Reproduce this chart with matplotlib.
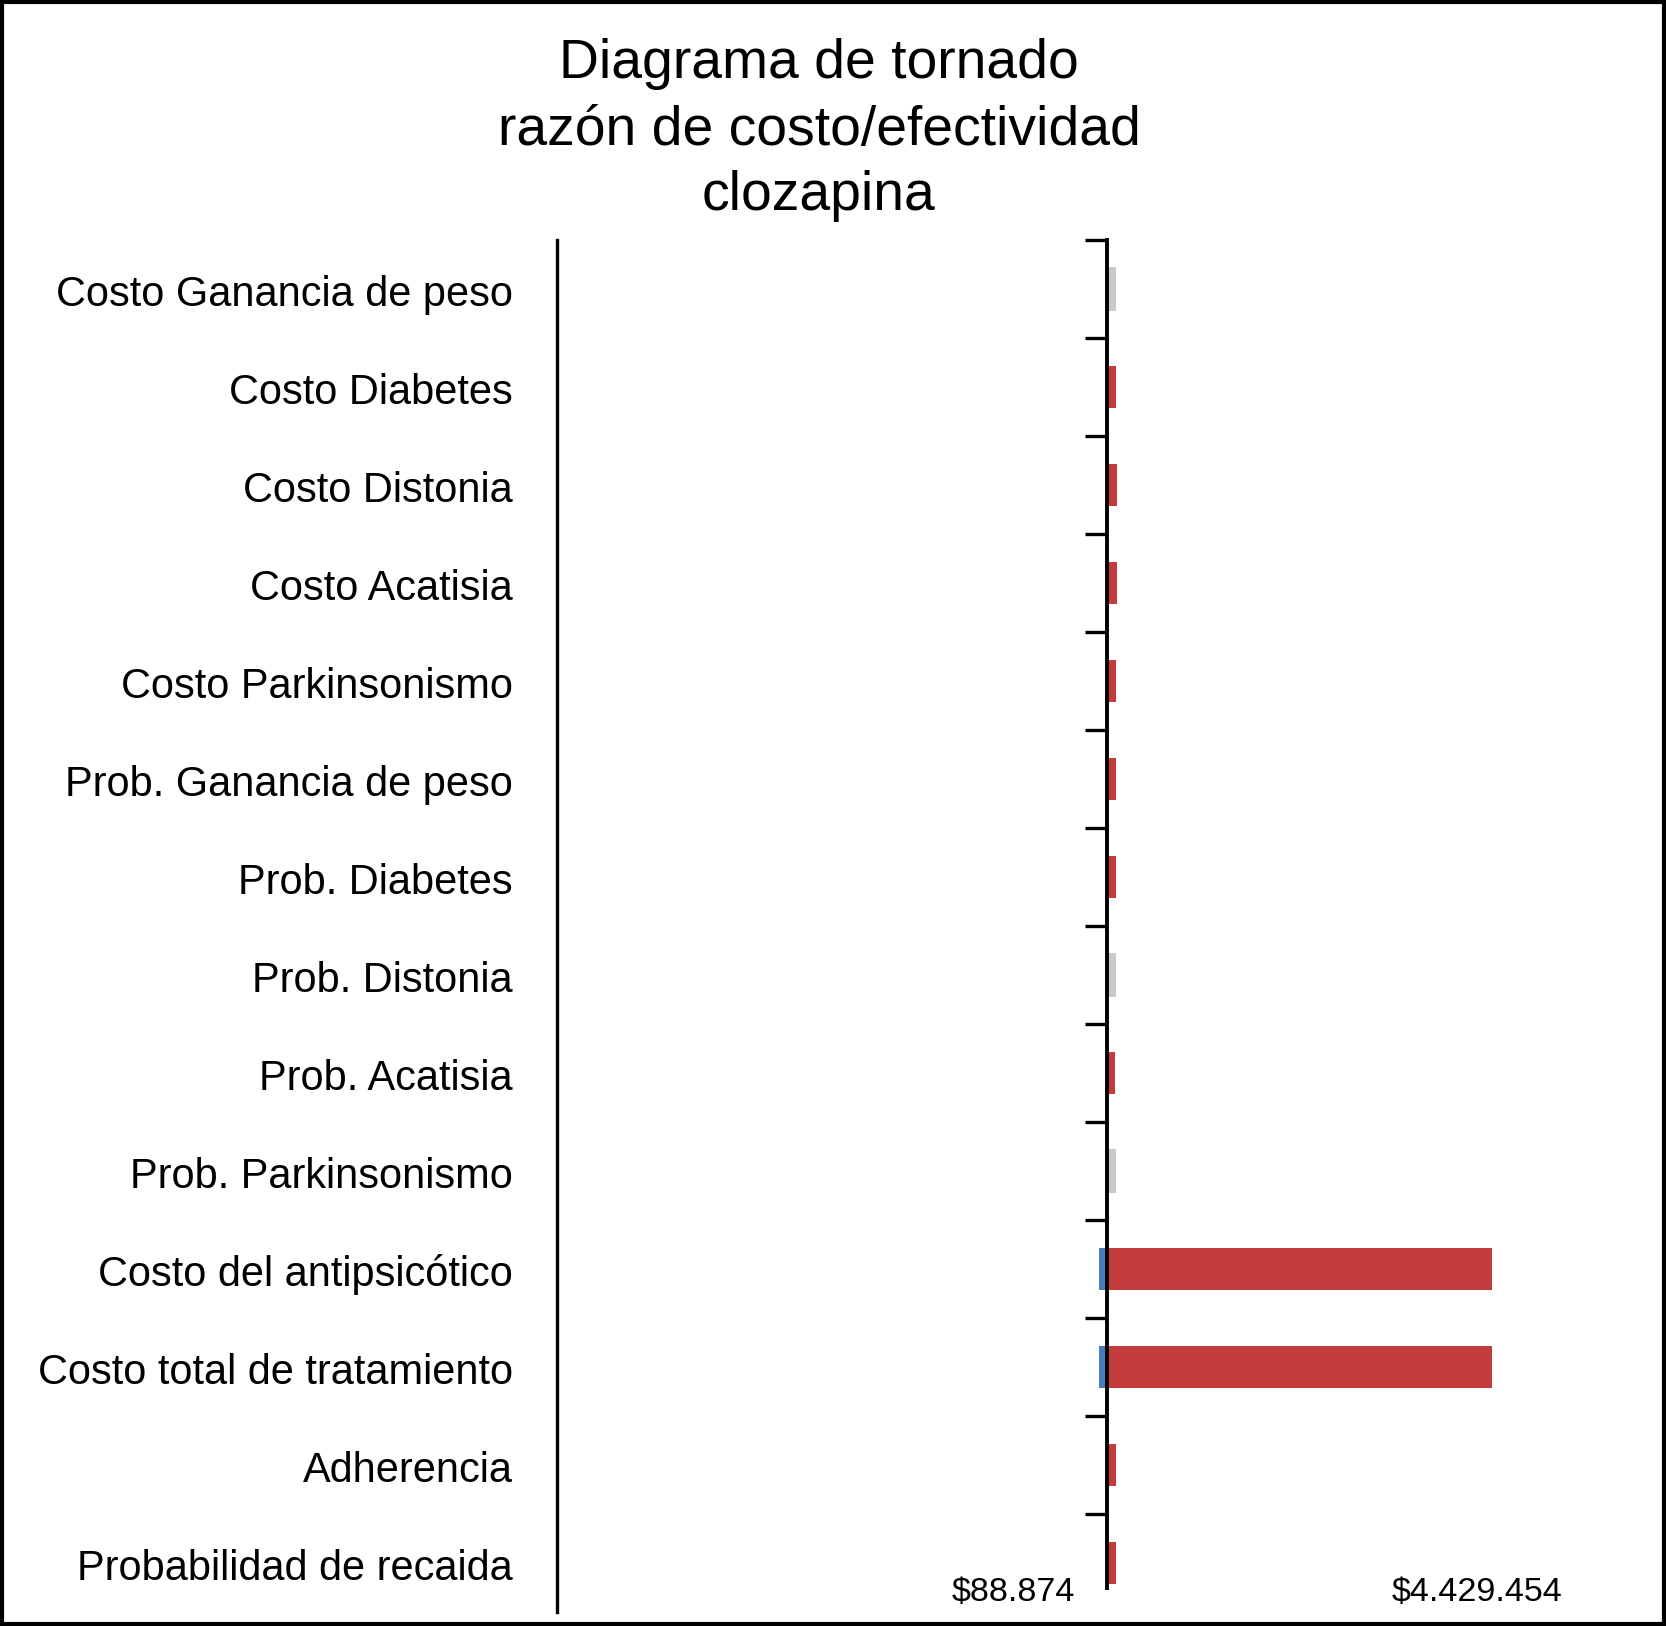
import matplotlib
matplotlib.use("Agg")
import matplotlib.pyplot as plt
import matplotlib.transforms as mtransforms
from matplotlib import font_manager
from matplotlib.patches import Rectangle

# Data (top to bottom), values in pesos
categories = [
    "Costo Ganancia de peso",
    "Costo Diabetes",
    "Costo Distonia",
    "Costo Acatisia",
    "Costo Parkinsonismo",
    "Prob. Ganancia de peso",
    "Prob. Diabetes",
    "Prob. Distonia",
    "Prob. Acatisia",
    "Prob. Parkinsonismo",
    "Costo del antipsicótico",
    "Costo total de tratamiento",
    "Adherencia",
    "Probabilidad de recaida",
]
base_value = 182600
low_values = [182600, 182600, 182600, 182600, 182600, 182600, 182600,
              182600, 182600, 182600, 88874, 88874, 182600, 182600]
high_values = [279000, 279000, 292000, 292000, 287000, 287000, 287000,
               287000, 266000, 287000, 4429454, 4429454, 285000, 285000]
neutral = [True, False, False, False, False, False, False,
           True, False, True, False, False, False, False]
min_label = "$88.874"
max_label = "$4.429.454"
title_lines = ["Diagrama de tornado", "razón de costo/efectividad", "clozapina"]

# Fonts: narrow Helvetica look if available
names = {f.name for f in font_manager.fontManager.ttflist}
if "Liberation Sans Narrow" in names:
    fam, k = "Liberation Sans Narrow", 1.0
else:
    fam, k = "Liberation Sans", 0.82
plt.rcParams["font.family"] = [fam, "DejaVu Sans"]

RED = "#C33B3A"
BLUE = "#4A7EBB"
GREY = "#C9C9C9"

W, H = 1666, 1626
fig = plt.figure(figsize=(W / 100, H / 100), dpi=100)
ax = fig.add_axes([557 / W, 1 - 1612 / H, (1640 - 557) / W, (1612 - 240) / H])

n = len(categories)
ys = list(range(n))
for y, lo, hi, ne in zip(ys, low_values, high_values, neutral):
    if ne:
        ax.barh(y, hi - base_value, left=base_value, height=0.44, color=GREY, zorder=2)
        continue
    if lo < base_value:
        ax.barh(y, base_value - lo, left=lo, height=0.42, color=BLUE, zorder=2)
    if hi > base_value:
        ax.barh(y, hi - base_value, left=base_value, height=0.42, color=RED, zorder=2)

px = 11031  # pesos per pixel
ax.set_xlim(base_value - 550 * px, base_value + 533 * px)
ax.set_ylim(n - 0.5, -0.5)

# center axis with ticks between categories
for s in ["top", "right", "bottom"]:
    ax.spines[s].set_visible(False)
ax.spines["left"].set_position(("data", base_value))
ax.spines["left"].set_linewidth(2.8)
ax.spines["left"].set_bounds(-0.5, n - 1 + 0.25)
ax.set_yticks([i - 0.5 for i in range(n)])
ax.set_yticklabels([])
ax.tick_params(axis="y", length=16, width=2.4, direction="out")
ax.set_xticks([])

# outer left line
ax.plot([0, 0], [0, 1], transform=ax.transAxes, color="black", lw=2.4, clip_on=False)

# category labels
trans = mtransforms.blended_transform_factory(ax.transAxes, ax.transData)
for y, c in zip(ys, categories):
    ax.annotate(c, xy=(-44 / (1640 - 557), y), xycoords=trans, xytext=(0, -4),
                textcoords="offset points", ha="right", va="center",
                fontsize=36.5 * k)

# bottom value labels
bt = mtransforms.blended_transform_factory(ax.transData, ax.transAxes)
ax.annotate(min_label, xy=(min(low_values), 0), xycoords=bt, xytext=(-17, 14),
            textcoords="offset points", ha="right", va="center", fontsize=30 * k)
ax.annotate(max_label, xy=(max(high_values), 0), xycoords=bt, xytext=(-11, 14),
            textcoords="offset points", ha="center", va="center", fontsize=30 * k)

# title
for yb, line in zip([78, 145, 210], title_lines):
    fig.text(819 / W, 1 - yb / H, line, ha="center", va="baseline", fontsize=48.5 * k)

# frame around figure
fig.patches.append(Rectangle((0.0012, 0.0012), 0.9976, 0.9976, transform=fig.transFigure,
                             fill=False, edgecolor="black", lw=3.0))

fig.savefig("out.png", dpi=100)
